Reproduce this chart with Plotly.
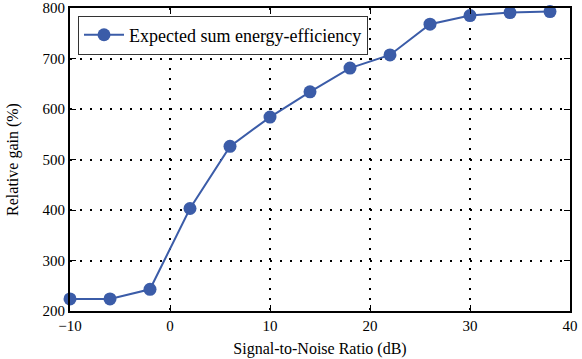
import plotly.graph_objects as go

# data
snr_db = [-10, -6, -2, 2, 6, 10, 14, 18, 22, 26, 30, 34, 38]
gain_pct = [224, 224, 243, 403, 526, 584, 634, 681, 707, 768, 785, 791, 793]
x_ticks = [-10, 0, 10, 20, 30, 40]
y_ticks = [200, 300, 400, 500, 600, 700, 800]

line_color = '#3b5ca8'
font_family = 'Liberation Serif, DejaVu Serif, serif'

fig = go.Figure()
fig.add_trace(go.Scatter(
    x=snr_db,
    y=gain_pct,
    mode='lines+markers',
    name='Expected sum energy-efficiency',
    line=dict(color=line_color, width=2),
    marker=dict(size=13, color=line_color),
    cliponaxis=False,
))

axis_common = dict(
    showline=True, linecolor='black', linewidth=2, mirror='ticks',
    ticks='inside', ticklen=6, tickcolor='black', tickwidth=1,
    showgrid=True, gridcolor='black', gridwidth=1.5, griddash='2px,8px',
    zeroline=False, automargin=False, ticklabeloverflow='allow',
    tickfont=dict(family=font_family, size=15, color='black'),
)

fig.update_xaxes(
    range=[-10, 40], tickvals=x_ticks,
    title=dict(text='Signal-to-Noise Ratio (dB)', font=dict(family=font_family, size=16, color='black'), standoff=10),
    **axis_common,
)
fig.update_yaxes(
    range=[200, 800], tickvals=y_ticks,
    title=dict(text='Relative gain (%)', font=dict(family=font_family, size=16, color='black'), standoff=20),
    **axis_common,
)

fig.update_layout(
    width=582, height=359,
    margin=dict(l=70, r=12, t=8, b=48),
    plot_bgcolor='white', paper_bgcolor='white',
    font=dict(family=font_family, color='black'),
    showlegend=True,
    legend=dict(
        x=0.016, y=0.975, xanchor='left', yanchor='top',
        bgcolor='white', bordercolor='#333333', borderwidth=1,
        itemwidth=40,
        font=dict(family=font_family, size=18, color='black'),
    ),
)

# drop the browser's default body margin so the figure sits at the window corner
fig.write_html('out.html', config={'displayModeBar': False},
               post_script="document.body.style.margin='0';")
